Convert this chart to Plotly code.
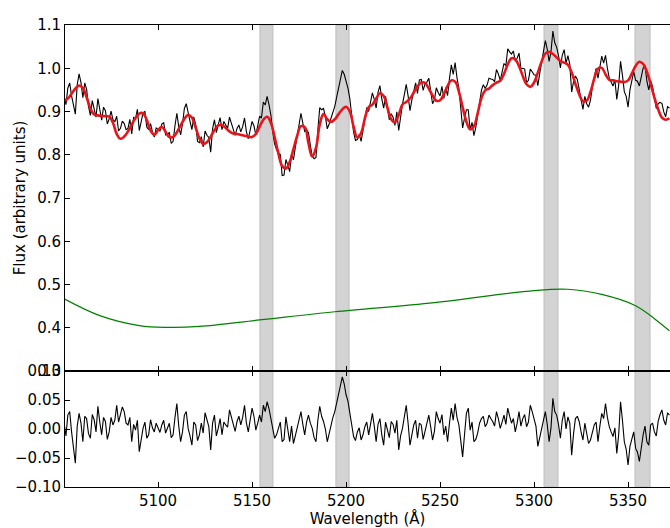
import plotly.graph_objects as go

# ---------------- data ----------------
wavelength = list(range(5050, 5373))  # Angstrom, 1 A sampling of the spectrum

flux = [
    0.935, 0.916, 0.954, 0.966, 0.936, 0.917, 0.894, 0.962, 0.987, 0.967,
    0.932, 0.966, 0.951, 0.912, 0.891, 0.925, 0.909, 0.887, 0.930, 0.903,
    0.880, 0.910, 0.902, 0.871, 0.883, 0.901, 0.881, 0.876, 0.889, 0.855,
    0.861, 0.878, 0.872, 0.858, 0.861, 0.882, 0.848, 0.886, 0.883, 0.905,
    0.856, 0.876, 0.897, 0.900, 0.864, 0.858, 0.872, 0.853, 0.841, 0.862,
    0.858, 0.855, 0.871, 0.874, 0.846, 0.849, 0.851, 0.826, 0.831, 0.867,
    0.896, 0.865, 0.846, 0.871, 0.907, 0.918, 0.893, 0.877, 0.858, 0.887,
    0.870, 0.831, 0.828, 0.842, 0.818, 0.855, 0.845, 0.840, 0.806, 0.860,
    0.881, 0.851, 0.869, 0.886, 0.858, 0.877, 0.869, 0.861, 0.887, 0.872,
    0.856, 0.845, 0.861, 0.869, 0.853, 0.865, 0.885, 0.853, 0.837, 0.857,
    0.877, 0.867, 0.846, 0.867, 0.889, 0.885, 0.922, 0.915, 0.935, 0.916,
    0.892, 0.853, 0.825, 0.812, 0.804, 0.801, 0.752, 0.753, 0.789, 0.776,
    0.761, 0.803, 0.788, 0.817, 0.845, 0.867, 0.896, 0.873, 0.854, 0.858,
    0.851, 0.822, 0.797, 0.791, 0.794, 0.858, 0.909, 0.904, 0.907, 0.888,
    0.860, 0.871, 0.883, 0.899, 0.912, 0.933, 0.953, 0.970, 0.995, 0.986,
    0.970, 0.954, 0.930, 0.893, 0.852, 0.833, 0.835, 0.847, 0.831, 0.857,
    0.888, 0.909, 0.900, 0.921, 0.943, 0.928, 0.908, 0.944, 0.960, 0.929,
    0.908, 0.935, 0.907, 0.881, 0.895, 0.887, 0.868, 0.899, 0.856, 0.892,
    0.917, 0.939, 0.963, 0.936, 0.902, 0.927, 0.951, 0.966, 0.942, 0.973,
    0.974, 0.949, 0.964, 0.968, 0.977, 0.949, 0.918, 0.927, 0.955, 0.944,
    0.936, 0.958, 0.930, 0.955, 0.937, 0.976, 1.008, 0.986, 1.013, 0.978,
    0.953, 0.908, 0.862, 0.884, 0.904, 0.904, 0.857, 0.875, 0.844, 0.863,
    0.889, 0.924, 0.949, 0.962, 0.953, 0.961, 0.977, 0.975, 0.974, 0.969,
    0.997, 0.987, 0.972, 0.991, 1.011, 1.006, 1.045, 1.038, 1.033, 1.040,
    1.016, 1.023, 1.035, 0.999, 1.000, 0.998, 0.967, 0.972, 0.998, 0.992,
    0.985, 0.984, 0.960, 0.988, 1.016, 1.037, 1.064, 1.044, 1.016, 1.038,
    1.086, 1.059, 1.049, 1.029, 1.001, 1.030, 1.043, 1.011, 1.029, 1.009,
    0.945, 0.969, 0.982, 0.974, 0.953, 0.927, 0.905, 0.935, 0.918, 0.910,
    0.926, 0.956, 0.983, 1.000, 0.977, 1.005, 1.028, 1.012, 1.030, 1.000,
    0.977, 0.968, 0.959, 0.973, 0.928, 0.960, 1.016, 0.984, 0.946, 0.935,
    0.910, 0.950, 0.972, 0.992, 0.972, 0.970, 0.959, 0.983, 1.000, 1.006,
    0.970, 0.950, 0.971, 0.958, 0.927, 0.907, 0.918, 0.921, 0.919, 0.899,
    0.888, 0.911, 0.908,
]

residual = [
    0.010, -0.012, 0.024, 0.030, -0.005, -0.030, -0.059, 0.005, 0.027, 0.010,
    -0.022, 0.022, 0.018, -0.008, -0.016, 0.025, 0.016, -0.005, 0.039, 0.012,
    -0.010, 0.020, 0.013, -0.018, -0.005, 0.020, 0.007, 0.015, 0.041, 0.012,
    0.024, 0.038, 0.030, 0.010, 0.007, 0.020, -0.022, 0.008, -0.002, 0.015,
    -0.039, -0.020, 0.001, 0.012, -0.016, -0.010, 0.016, 0.002, -0.005, 0.010,
    0.001, -0.006, 0.007, 0.015, -0.007, 0.002, 0.010, -0.015, -0.010, 0.020,
    0.044, 0.005, -0.022, -0.005, 0.024, 0.030, 0.001, -0.012, -0.028, 0.012,
    0.007, -0.020, -0.010, 0.010, -0.007, 0.028, 0.016, 0.004, -0.036, 0.010,
    0.024, -0.012, 0.001, 0.018, -0.010, 0.012, 0.007, 0.003, 0.033, 0.020,
    0.007, -0.004, 0.013, 0.022, 0.007, 0.020, 0.041, 0.010, -0.005, 0.015,
    0.036, 0.022, -0.002, 0.010, 0.024, 0.012, 0.041, 0.030, 0.047, 0.035,
    0.018, -0.005, -0.016, -0.010, 0.001, 0.012, -0.022, -0.018, 0.021, 0.000,
    -0.022, 0.005, -0.025, -0.012, 0.001, 0.012, 0.030, 0.008, -0.010, 0.012,
    0.024, 0.010, 0.001, -0.015, -0.022, 0.015, 0.039, 0.022, 0.013, 0.000,
    -0.022, -0.008, 0.007, 0.020, 0.030, 0.045, 0.059, 0.070, 0.090, 0.078,
    0.059, 0.048, 0.030, 0.010, -0.013, -0.020, -0.005, 0.002, -0.019, -0.010,
    0.004, 0.012, -0.010, 0.008, 0.027, 0.005, -0.022, 0.008, 0.018, -0.010,
    -0.028, 0.012, -0.002, -0.015, 0.013, 0.008, -0.007, 0.015, -0.036, -0.012,
    0.001, 0.020, 0.041, 0.010, -0.028, -0.010, 0.007, 0.015, -0.016, 0.010,
    0.007, -0.018, -0.002, 0.008, 0.024, 0.004, -0.019, -0.004, 0.030, 0.018,
    0.010, 0.025, -0.010, 0.005, -0.022, 0.010, 0.036, 0.015, 0.044, 0.020,
    0.007, -0.020, -0.048, -0.010, 0.027, 0.036, -0.002, 0.012, -0.022, -0.018,
    -0.007, 0.010, 0.018, 0.022, 0.004, 0.010, 0.024, 0.018, 0.013, 0.005,
    0.030, 0.018, 0.001, 0.012, 0.024, 0.008, 0.036, 0.022, 0.010, 0.018,
    -0.005, 0.010, 0.030, 0.005, 0.018, 0.025, 0.004, 0.012, 0.041, 0.030,
    0.018, 0.005, -0.030, -0.015, 0.001, 0.012, 0.030, 0.008, -0.022, 0.002,
    0.053, 0.030, 0.024, 0.008, -0.016, 0.015, 0.030, 0.000, 0.021, 0.010,
    -0.045, -0.008, 0.018, 0.022, 0.013, -0.005, -0.019, 0.010, -0.007, -0.025,
    -0.019, -0.005, 0.007, 0.012, -0.022, 0.005, 0.027, 0.018, 0.044, 0.020,
    0.004, -0.005, -0.013, 0.002, -0.042, -0.010, 0.047, 0.015, -0.022, -0.035,
    -0.062, -0.030, -0.016, -0.005, -0.033, -0.040, -0.056, -0.030, -0.010, 0.005,
    -0.022, -0.028, 0.007, 0.010, -0.005, -0.012, 0.013, 0.025, 0.033, 0.015,
    0.007, 0.028, 0.024,
]

fit_wavelength = list(range(5050, 5373, 2))  # model evaluated every 2 A
best_fit = [
    0.925, 0.930, 0.941, 0.953, 0.960, 0.954, 0.933, 0.907, 0.893, 0.891,
    0.890, 0.889, 0.888, 0.874, 0.848, 0.837, 0.842, 0.854, 0.870, 0.885,
    0.895, 0.896, 0.880, 0.856, 0.846, 0.857, 0.864, 0.853, 0.841, 0.841,
    0.852, 0.868, 0.883, 0.892, 0.886, 0.863, 0.838, 0.825, 0.829, 0.842,
    0.857, 0.868, 0.868, 0.862, 0.854, 0.849, 0.848, 0.846, 0.844, 0.842,
    0.841, 0.848, 0.865, 0.881, 0.888, 0.874, 0.841, 0.803, 0.774, 0.768,
    0.783, 0.813, 0.844, 0.866, 0.864, 0.827, 0.796, 0.816, 0.870, 0.894,
    0.882, 0.876, 0.882, 0.894, 0.905, 0.911, 0.900, 0.865, 0.840, 0.850,
    0.884, 0.910, 0.916, 0.930, 0.942, 0.936, 0.909, 0.882, 0.875, 0.892,
    0.916, 0.922, 0.930, 0.944, 0.958, 0.967, 0.966, 0.953, 0.937, 0.925,
    0.926, 0.940, 0.959, 0.972, 0.969, 0.946, 0.910, 0.877, 0.859, 0.866,
    0.896, 0.931, 0.949, 0.953, 0.961, 0.967, 0.971, 0.987, 1.009, 1.023,
    1.021, 1.005, 0.982, 0.963, 0.957, 0.967, 0.990, 1.015, 1.034, 1.038,
    1.033, 1.025, 1.017, 1.013, 1.008, 0.990, 0.964, 0.940, 0.924, 0.925,
    0.945, 0.976, 0.999, 1.001, 0.986, 0.973, 0.972, 0.970, 0.969, 0.968,
    0.972, 0.988, 1.005, 1.015, 1.010, 0.992, 0.964, 0.932, 0.905, 0.886,
    0.881, 0.884,
]

continuum_wl = [5050, 5069, 5090, 5105, 5122, 5154, 5194, 5247, 5300, 5318, 5336, 5354, 5364, 5372]
continuum = [0.467, 0.428, 0.405, 0.401, 0.403, 0.418, 0.437, 0.458, 0.486, 0.489, 0.477, 0.451, 0.421, 0.393]

# masked wavelength windows (start, end) in Angstrom
masked_regions = [(5154.2, 5161.1), (5194.6, 5201.6), (5305.3, 5312.7), (5353.7, 5361.7)]

x_ticks = [5100, 5150, 5200, 5250, 5300, 5350]
flux_ticks = [0.3, 0.4, 0.5, 0.6, 0.7, 0.8, 0.9, 1.0, 1.1]
resid_ticks = [-0.10, -0.05, 0.00, 0.05, 0.10]

# ---------------- figure ----------------
FONT = "DejaVu Sans"
FS = 15
split = 116 / 462

fig = go.Figure()
fig.add_trace(go.Scatter(x=wavelength, y=flux, mode="lines",
                         line=dict(color="black", width=1.1), xaxis="x", yaxis="y",
                         showlegend=False))
fig.add_trace(go.Scatter(x=fit_wavelength, y=best_fit, mode="lines",
                         line=dict(color="#e8141b", width=2.6, shape="spline", smoothing=1.2),
                         xaxis="x", yaxis="y", showlegend=False))
fig.add_trace(go.Scatter(x=continuum_wl, y=continuum, mode="lines",
                         line=dict(color="#008000", width=1.2, shape="spline", smoothing=1.0),
                         xaxis="x", yaxis="y", showlegend=False))
fig.add_trace(go.Scatter(x=wavelength, y=residual, mode="lines",
                         line=dict(color="black", width=1.1), xaxis="x2", yaxis="y2",
                         showlegend=False))

for (a, b) in masked_regions:
    fig.add_shape(type="rect", xref="x", yref="paper", x0=a, x1=b, y0=0, y1=1,
                  fillcolor="#d3d3d3", line=dict(color="#bdbdbd", width=1), layer="below")

axis_common = dict(showgrid=False, zeroline=False, showline=True, linecolor="black",
                   linewidth=1, ticks="inside", ticklen=5, tickcolor="black",
                   tickfont=dict(family=FONT, size=FS, color="black"))

fig.update_layout(
    width=670, height=528,
    margin=dict(l=65, r=0, t=25, b=41),
    paper_bgcolor="white", plot_bgcolor="rgba(0,0,0,0)",
    font=dict(family=FONT, size=FS, color="black"),
    xaxis=dict(**axis_common, range=[5050.5, 5372.3], tickvals=x_ticks,
               showticklabels=False, mirror="ticks", anchor="y", matches="x2"),
    yaxis=dict(**axis_common, range=[0.3, 1.1], tickvals=flux_ticks, tickformat=".1f",
               domain=[split, 1], anchor="x",
               title=dict(text="Flux (arbitrary units)", standoff=7,
                          font=dict(family=FONT, size=FS, color="black"))),
    xaxis2=dict(**axis_common, range=[5050.5, 5372.3], tickvals=x_ticks,
                mirror="ticks", anchor="y2",
                title=dict(text="Wavelength (Å)", standoff=9,
                           font=dict(family=FONT, size=FS, color="black"))),
    yaxis2=dict(**axis_common, range=[-0.1, 0.1], tickvals=resid_ticks, tickformat=".2f",
                domain=[0, split], anchor="x2"),
)

fig.write_html("out.html")
